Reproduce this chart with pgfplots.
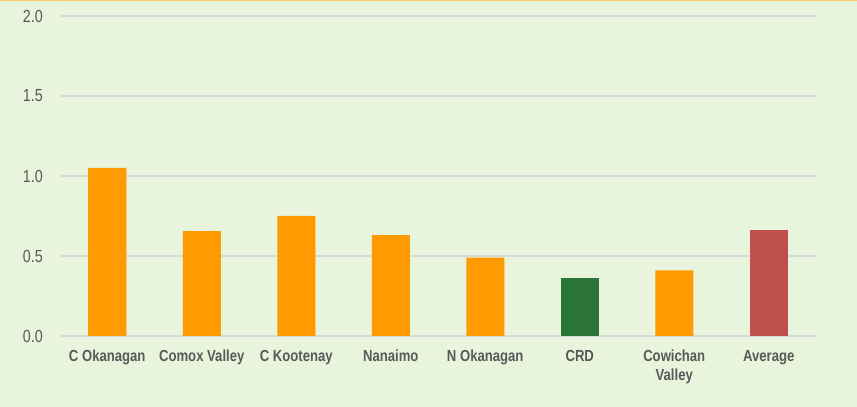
\documentclass[border=0pt]{standalone}
\usepackage{pgfplots}
\pgfplotsset{compat=1.18}
\usepackage{fontspec}
\setmainfont{Liberation Sans}
\newfontfamily\narrowfont[FakeStretch=0.82]{Liberation Sans}

\definecolor{bg}{HTML}{E8F4DC}
\definecolor{topline}{HTML}{F8C86A}
\definecolor{gridgray}{HTML}{D9D9D9}
\definecolor{labelgray}{HTML}{595959}
\definecolor{barorange}{HTML}{FF9B00}
\definecolor{bargreen}{HTML}{2A7537}
\definecolor{barred}{HTML}{C0504D}

\begin{document}
\begin{tikzpicture}
\path[use as bounding box, fill=bg] (0,0) rectangle (857pt,407pt);
\fill[topline] (0,405.5pt) rectangle (857pt,407pt);
\begin{axis}[
    at={(60pt,71pt)}, anchor=south west,
    scale only axis,
    width=756pt, height=320pt,
    xmin=-0.5, xmax=7.5,
    ymin=0, ymax=2,
    ybar, bar width=38pt, bar shift=0pt,
    axis line style={draw=none},
    major tick length=0pt,
    ymajorgrids,
    grid style={line width=1.4pt, gridgray},
    ytick={0,0.5,1,1.5,2},
    yticklabel style={/pgf/number format/fixed, /pgf/number format/fixed zerofill,
        /pgf/number format/precision=1, /pgf/number format/assume math mode=true},
    y tick label style={anchor=east, inner sep=0pt, xshift=-17pt,
        font=\narrowfont\fontsize{17.5}{20}\selectfont, text=labelgray},
    xtick={0,1,2,3,4,5,6,7},
    xticklabels={C Okanagan, Comox Valley, C Kootenay, Nanaimo, N Okanagan, CRD, {Cowichan\\Valley}, Average},
    x tick label style={anchor=north, inner sep=0pt, yshift=-14pt, align=center,
        font=\narrowfont\bfseries\fontsize{16}{19}\selectfont, text=labelgray},
]
% orange regions
\addplot[fill=barorange, draw=none] coordinates {
    (0,1.05) (1,0.655) (2,0.75) (3,0.63) (4,0.49) (6,0.41)
};
% CRD
\addplot[fill=bargreen, draw=none] coordinates {(5,0.362)};
% average
\addplot[fill=barred, draw=none] coordinates {(7,0.6625)};
\end{axis}
\end{tikzpicture}
\end{document}
